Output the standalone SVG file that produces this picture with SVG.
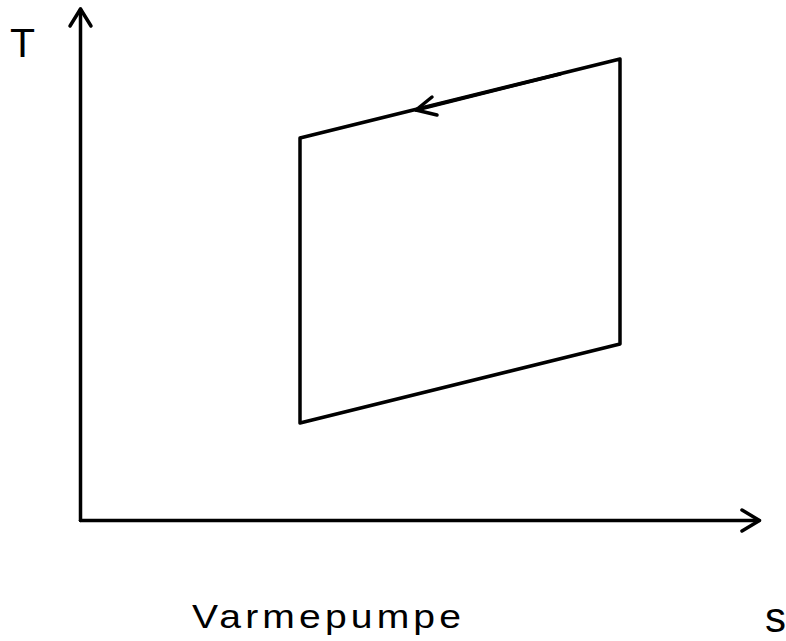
<svg xmlns="http://www.w3.org/2000/svg" width="786" height="641" viewBox="0 0 786 641">
<style>
.ln{fill:none;stroke:#000;stroke-width:3.5;stroke-linecap:round;stroke-linejoin:round}
.lbl{font-family:"Liberation Sans",Arial,sans-serif;fill:#000}
</style>
<rect width="786" height="641" fill="#fff"/>
<g id="axes">
<path class="ln" stroke-width="3" d="M80.5 520.5 V9"/>
<path class="ln" stroke-width="3" d="M70 26 L80.5 9 L91 26"/>
<path class="ln" stroke-width="3" d="M80.5 520.5 H759"/>
<path class="ln" stroke-width="3" d="M742 510 L759.5 520.5 L742 531"/>
</g>
<g id="cycle">
<path class="ln" d="M300 138 L620 59 L620 344 L300 423 Z"/>
</g>
<g id="connectors">
<path class="ln" stroke-width="4.5" d="M560 74 L416 110"/>
<path class="ln" d="M432 97 L416 110 L437 115"/>
</g>
<g id="labels">
<text class="lbl" x="10" y="57" font-size="41">T</text>
<text class="lbl" transform="translate(192,628) scale(1.15,1)" x="0" y="0" font-size="34" letter-spacing="3.6">Varmepumpe</text>
<text class="lbl" x="765" y="632" font-size="42">s</text>
</g>
</svg>
